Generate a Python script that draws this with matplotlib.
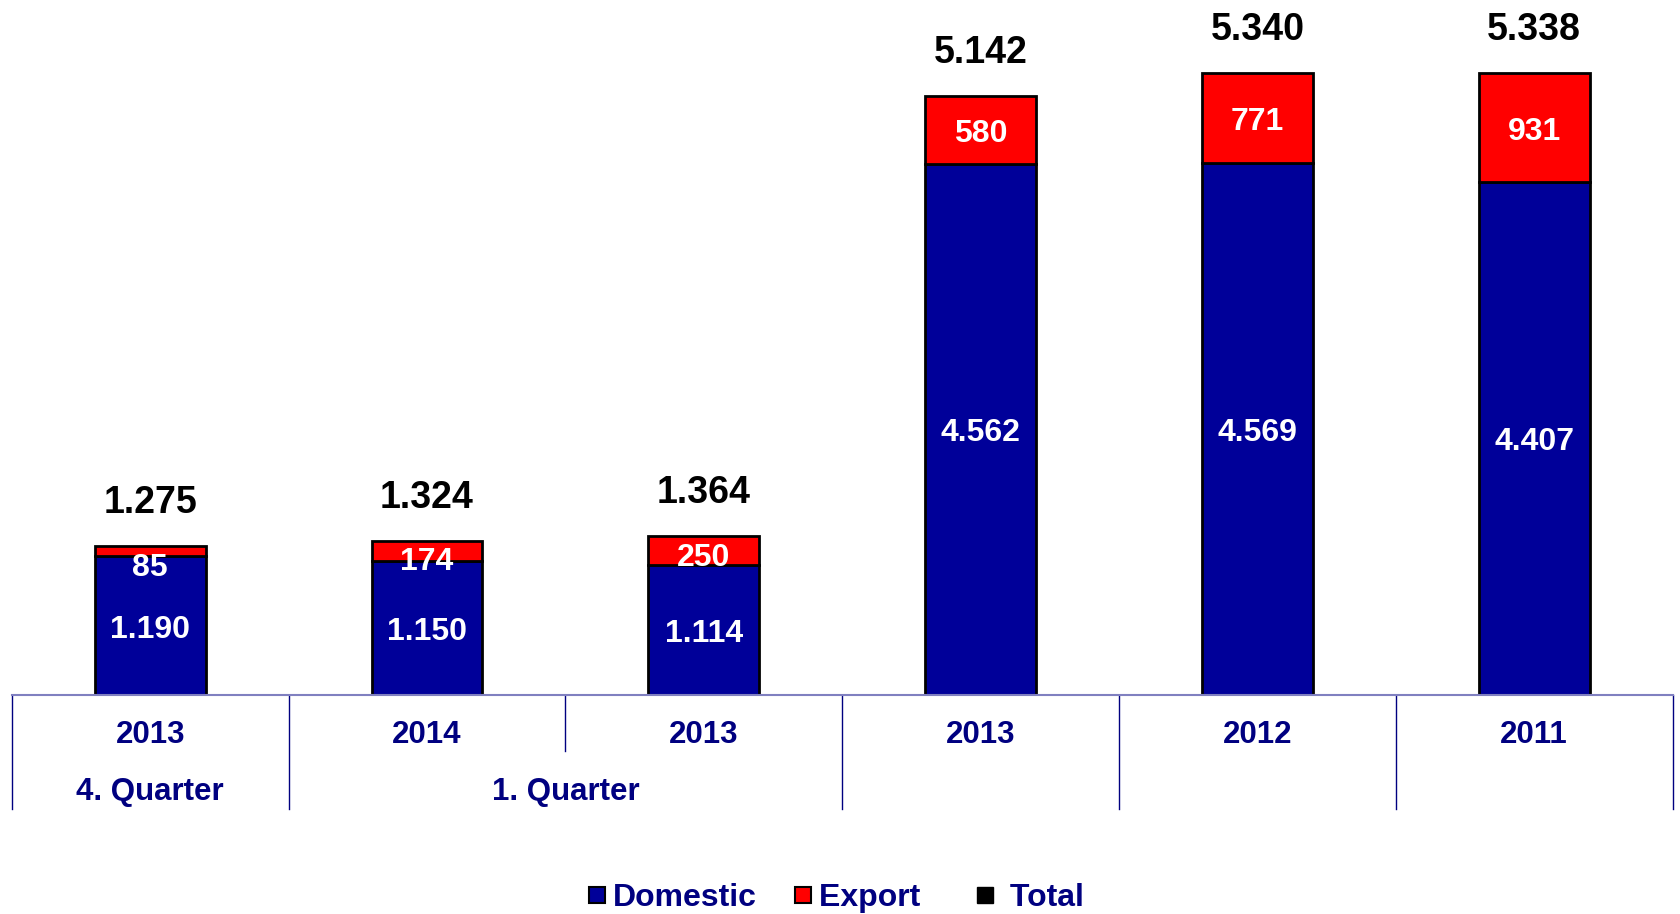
import matplotlib.pyplot as plt
from matplotlib.lines import Line2D
import numpy as np

plt.rcParams['font.family'] = ['Liberation Sans', 'DejaVu Sans']
plt.rcParams['font.weight'] = 'bold'

# ======== data ========
years = ['2013', '2014', '2013', '2013', '2012', '2011']
periods = ['4. Quarter', '1. Quarter', '']
domestic = [1190, 1150, 1114, 4562, 4569, 4407]
export = [85, 174, 250, 580, 771, 931]
total = [1275, 1324, 1364, 5142, 5340, 5338]

navy = '#000080'
blue = '#000099'
red = '#FF0000'


def fmt(v):
    return f"{v:,}".replace(",", ".")


fig = plt.figure(figsize=(16.81, 9.14), dpi=100)
ax = fig.add_axes([0.007, 0.2396, 0.988, 0.7604])

x = np.arange(len(years))
w = 0.4
ax.bar(x, domestic, w, color=blue, edgecolor='black', linewidth=2, zorder=2)
ax.bar(x, export, w, bottom=domestic, color=red, edgecolor='black', linewidth=2, zorder=2)

# labels inside bars (nudged a bit down like the original)
for i in range(len(x)):
    ax.annotate(fmt(domestic[i]), (x[i], domestic[i] / 2), xytext=(0, -3),
                textcoords='offset points', ha='center', va='center',
                color='white', fontsize=23, fontweight='bold', zorder=3)
    ymid = domestic[i] + export[i] / 2
    ylab = min(ymid, total[i] - 150)
    ax.annotate(fmt(export[i]), (x[i], ylab), xytext=(0, -3),
                textcoords='offset points', ha='center', va='center',
                color='white', fontsize=23, fontweight='bold', zorder=3)
    ax.annotate(fmt(total[i]), (x[i], total[i]), xytext=(0, 31),
                textcoords='offset points', ha='center', va='center',
                color='black', fontsize=27, fontweight='bold')

ax.set_xlim(-0.5, len(x) - 0.5)
ax.set_ylim(0, 5966)
ax.set_yticks([])
ax.set_xticks([])
for s in ['top', 'right', 'left']:
    ax.spines[s].set_visible(False)
ax.spines['bottom'].set_color('#8080c0')
ax.spines['bottom'].set_linewidth(1.5)

# category boxes under the axis
tr = ax.get_xaxis_transform()
for xs in [-0.5, 0.5, 2.5, 3.5, 4.5, 5.5]:
    ax.plot([xs, xs], [0, -0.164], color=navy, lw=1, transform=tr, clip_on=False)
ax.plot([1.5, 1.5], [0, -0.0806], color=navy, lw=1, transform=tr, clip_on=False)

for i, yr in enumerate(years):
    ax.text(x[i], -0.057, yr, transform=tr, ha='center', va='center',
            color=navy, fontsize=22.5, fontweight='bold')
ax.text(0, -0.139, periods[0], transform=tr, ha='center', va='center',
        color=navy, fontsize=22.5, fontweight='bold')
ax.text(1.5, -0.139, periods[1], transform=tr, ha='center', va='center',
        color=navy, fontsize=22.5, fontweight='bold')

# legend
handles = [
    Line2D([], [], ls='none', marker='s', markersize=12, markerfacecolor=blue,
           markeredgecolor='black', markeredgewidth=1.5),
    Line2D([], [], ls='none', marker='s', markersize=12, markerfacecolor=red,
           markeredgecolor='black', markeredgewidth=1.5),
    Line2D([], [], ls='none', marker='s', markersize=12, markerfacecolor='black',
           markeredgecolor='black'),
]
leg = fig.legend(handles, ['Domestic', 'Export  ', ' Total'], loc='center',
                 bbox_to_anchor=(0.497, 0.017), ncol=3, frameon=False,
                 handlelength=0.6, handletextpad=0.2,
                 columnspacing=1.15, prop={'weight': 'bold', 'size': 23})
for t in leg.get_texts():
    t.set_color(navy)

fig.savefig('out.png', dpi=100)
